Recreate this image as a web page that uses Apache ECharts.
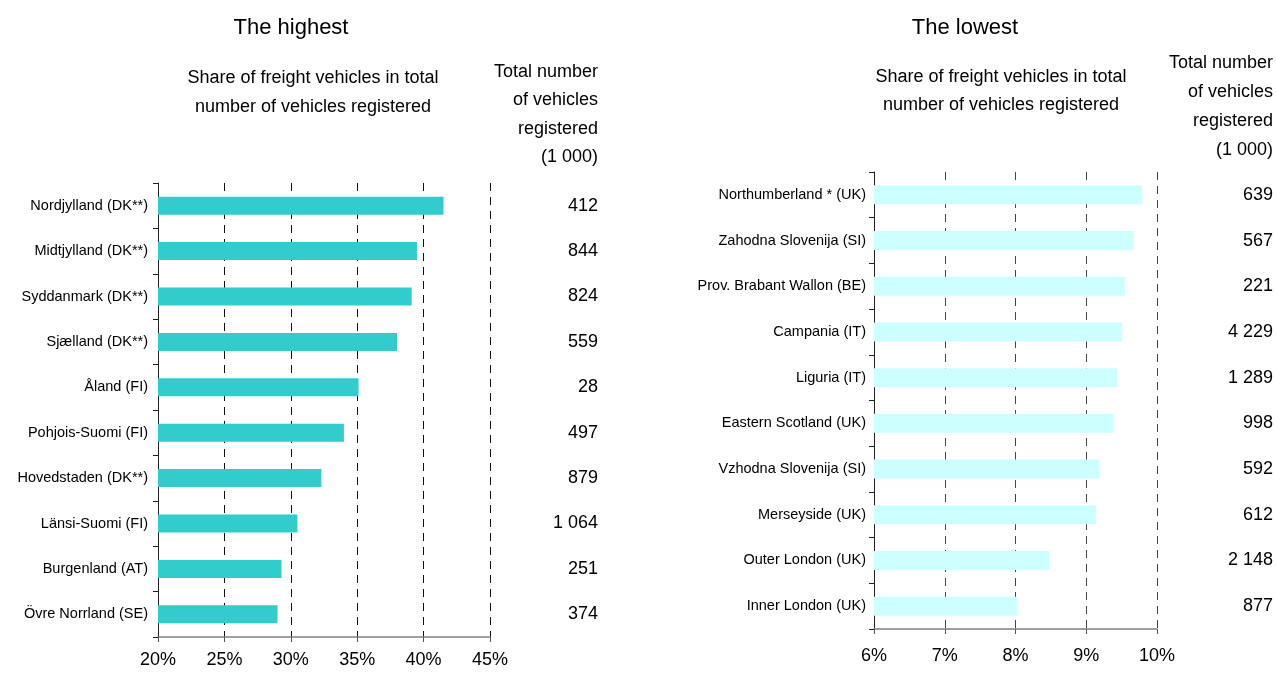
<!DOCTYPE html>
<html>
<head>
<meta charset="utf-8">
<script src="https://cdn.jsdelivr.net/npm/echarts@6/dist/echarts.min.js"></script>
<style>
  html, body { margin: 0; padding: 0; background: #fff; }
  #chart { width: 1276px; height: 674px; }
</style>
</head>
<body>
<div id="chart"></div>
<script>
// highest shares
const highRegions = ['Nordjylland (DK**)', 'Midtjylland (DK**)', 'Syddanmark (DK**)', 'Sjælland (DK**)',
  'Åland (FI)', 'Pohjois-Suomi (FI)', 'Hovedstaden (DK**)', 'Länsi-Suomi (FI)', 'Burgenland (AT)', 'Övre Norrland (SE)']
const highShare = [41.5, 39.5, 39.1, 38.0, 35.1, 34.0, 32.3, 30.5, 29.3, 29.0]
const highTotal = ['412', '844', '824', '559', '28', '497', '879', '1 064', '251', '374']

// lowest shares
const lowRegions = ['Northumberland * (UK)', 'Zahodna Slovenija (SI)', 'Prov. Brabant Wallon (BE)', 'Campania (IT)',
  'Liguria (IT)', 'Eastern Scotland (UK)', 'Vzhodna Slovenija (SI)', 'Merseyside (UK)', 'Outer London (UK)', 'Inner London (UK)']
const lowShare = [9.79, 9.67, 9.55, 9.51, 9.44, 9.39, 9.18, 9.14, 8.48, 8.03]
const lowTotal = ['639', '567', '221', '4 229', '1 289', '998', '592', '612', '2 148', '877']

const shareHeader = 'Share of freight vehicles in total\nnumber of vehicles registered'
const totalHeader = 'Total number\nof vehicles\nregistered\n(1 000)'

const FONT = "'Liberation Sans', Arial, sans-serif"

const chart = echarts.init(document.getElementById('chart'))

function txt(x, y, text, size, align, lh) {
  return {
    type: 'text',
    x: x,
    y: y,
    style: {
      text: text,
      fontFamily: FONT,
      fontSize: size,
      lineHeight: lh,
      fill: '#000',
      align: align,
      verticalAlign: 'middle'
    }
  }
}

function catAxis(grid, data, pos, margin, showLine) {
  return {
    type: 'category',
    gridIndex: grid,
    position: pos,
    inverse: true,
    data: data,
    axisLine: { show: showLine, lineStyle: { color: '#222', width: 1 } },
    axisTick: { show: showLine, length: 5, lineStyle: { color: '#222' } },
    axisLabel: {
      margin: margin,
      fontFamily: FONT,
      fontSize: pos === 'left' ? 14.5 : 18,
      color: '#000',
      align: 'right'
    },
    splitLine: { show: false }
  }
}

function valAxis(grid, min, max, interval, margin, dashColor) {
  return {
    type: 'value',
    gridIndex: grid,
    min: min,
    max: max,
    interval: interval,
    axisLine: { show: true, lineStyle: { color: '#808080', width: 1.5 } },
    axisTick: { show: true, length: 5, lineStyle: { color: '#555' } },
    axisLabel: {
      margin: margin,
      fontFamily: FONT,
      fontSize: 18,
      color: '#000',
      formatter: (v) => v + '%'
    },
    splitLine: { show: true, lineStyle: { color: dashColor, type: [8, 6], width: 1 } }
  }
}

chart.setOption({
  animation: false,
  grid: [
    { left: 158, right: 786, top: 183, height: 454 },
    { left: 874, right: 119, top: 172, height: 457 }
  ],
  xAxis: [
    valAxis(0, 20, 45, 5, 14, '#111'),
    valAxis(1, 6, 10, 1, 18, '#444')
  ],
  yAxis: [
    catAxis(0, highRegions, 'left', 10, true),
    catAxis(0, highTotal, 'right', 108, false),
    catAxis(1, lowRegions, 'left', 8, true),
    catAxis(1, lowTotal, 'right', 116, false)
  ],
  series: [
    {
      type: 'bar',
      xAxisIndex: 0,
      yAxisIndex: 0,
      data: highShare,
      barWidth: 18,
      itemStyle: { color: '#33CCCC' }
    },
    {
      type: 'bar',
      xAxisIndex: 1,
      yAxisIndex: 2,
      data: lowShare,
      barWidth: 19,
      itemStyle: { color: '#CCFFFF' }
    }
  ],
  graphic: [
    txt(291, 28, 'The highest', 22, 'center', 26),
    txt(313, 92.5, shareHeader, 18, 'center', 29),
    txt(598, 114.5, totalHeader, 18, 'right', 28.5),
    txt(965, 28, 'The lowest', 22, 'center', 26),
    txt(1001, 91, shareHeader, 18, 'center', 28),
    txt(1273, 106.5, totalHeader, 18, 'right', 29)
  ]
})
</script>
</body>
</html>
